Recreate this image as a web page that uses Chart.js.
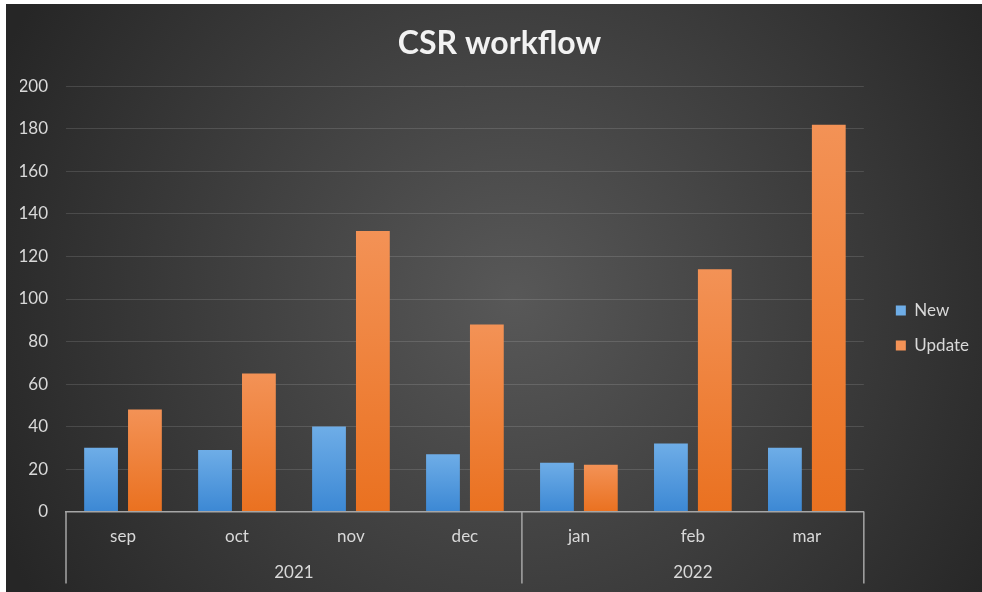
<!DOCTYPE html>
<html>
<head>
<meta charset="utf-8">
<script src="https://cdn.jsdelivr.net/npm/chart.js@4"></script>
<style>
html, body { margin: 0; padding: 0; background: #ffffff; }
#wrap { position: absolute; left: 6px; top: 4px; width: 976px; height: 588px; }
</style>
</head>
<body>
<div id="wrap"><canvas id="myChart"></canvas></div>
<script>
const months = ['sep', 'oct', 'nov', 'dec', 'jan', 'feb', 'mar'];
const yearLabels = ['2021', '2022'];
const monthsPerYear = [4, 3];
const newValues = [30, 29, 40, 27, 23, 32, 30];
const updateValues = [48, 65, 132, 88, 22, 114, 182];

// gradient from bar top to the zero line, like the excel bars
function barFill(light, dark, solid) {
  return function (c) {
    const chart = c.chart;
    if (c.type !== 'data' || !chart.chartArea) return solid;
    const y = chart.scales.y;
    const top = y.getPixelForValue(c.raw);
    const bottom = y.getPixelForValue(0);
    if (!(bottom > top)) return solid;
    const g = chart.ctx.createLinearGradient(0, top, 0, bottom);
    g.addColorStop(0, light);
    g.addColorStop(1, dark);
    return g;
  };
}

const bgPlugin = {
  id: 'bg',
  beforeDraw(chart) {
    const ctx = chart.ctx;
    const w = chart.width, h = chart.height;
    const g = ctx.createRadialGradient(w * 0.52, h * 0.5, 0, w * 0.52, h * 0.5, w * 0.58);
    g.addColorStop(0, '#585858');
    g.addColorStop(1, '#262626');
    ctx.save();
    ctx.fillStyle = g;
    ctx.fillRect(0, 0, w, h);
    ctx.restore();
  }
};

const yearPlugin = {
  id: 'years',
  afterDraw(chart) {
    const x = chart.scales.x;
    const ctx = chart.ctx;
    const n = months.length;
    const edge = i => i === 0 ? x.left : i === n ? x.right : (x.getPixelForValue(i - 1) + x.getPixelForValue(i)) / 2;
    ctx.save();
    ctx.strokeStyle = '#a6a6a6';
    ctx.lineWidth = 1.5;
    ctx.fillStyle = '#d9d9d9';
    ctx.font = '17px Lato';
    ctx.textAlign = 'center';
    ctx.textBaseline = 'middle';
    let start = 0;
    const line = px => { ctx.beginPath(); ctx.moveTo(px, x.top); ctx.lineTo(px, x.top + 72); ctx.stroke(); };
    line(edge(0));
    yearLabels.forEach((lab, k) => {
      const end = start + monthsPerYear[k];
      line(edge(end));
      ctx.fillText(lab, (edge(start) + edge(end)) / 2, x.top + 61);
      start = end;
    });
    ctx.restore();
  }
};

const ctx = document.getElementById('myChart');

new Chart(ctx, {
  type: 'bar',
  data: {
    labels: months,
    datasets: [{
      label: 'New',
      data: newValues,
      backgroundColor: barFill('#6eade7', '#3c88d4', '#5b9bd5'),
      categoryPercentage: 0.77,
      barPercentage: 0.77
    }, {
      label: 'Update',
      data: updateValues,
      backgroundColor: barFill('#f39256', '#ea7120', '#ed7d31'),
      categoryPercentage: 0.77,
      barPercentage: 0.77
    }]
  },
  options: {
    responsive: true,
    maintainAspectRatio: false,
    animation: false,
    layout: { padding: { left: 14, right: 3, top: 0, bottom: 30 } },
    plugins: {
      title: {
        display: true,
        text: 'CSR workflow',
        color: '#f2f2f2',
        font: { family: 'Lato', size: 32, weight: 'bold' },
        padding: { top: 20, bottom: 24 }
      },
      legend: {
        position: 'right',
        title: { display: true, text: ' ', font: { size: 15 }, padding: 36 },
        labels: {
          color: '#d9d9d9',
          font: { family: 'Lato', size: 17 },
          boxWidth: 10,
          boxHeight: 10,
          padding: 18
        }
      },
      tooltip: { enabled: false }
    },
    scales: {
      x: {
        grid: { display: false, drawTicks: false },
        border: { display: true, color: '#a6a6a6', width: 1.5 },
        ticks: { color: '#d9d9d9', font: { family: 'Lato', size: 17 }, padding: 15 }
      },
      y: {
        min: 0,
        max: 200,
        grid: { color: 'rgba(255,255,255,0.13)', drawTicks: false },
        border: { display: false },
        ticks: { stepSize: 20, color: '#d9d9d9', font: { family: 'Lato', size: 17 }, padding: 18 },
        afterFit(s) { s.width = 46; }
      },
      // empty spacer so the legend sits a bit away from the plot
      gap: {
        type: 'linear',
        position: 'right',
        display: true,
        grid: { display: false },
        border: { display: false },
        ticks: { display: false },
        afterFit(s) { s.width = 14; }
      }
    }
  },
  plugins: [bgPlugin, yearPlugin]
});
</script>
</body>
</html>
